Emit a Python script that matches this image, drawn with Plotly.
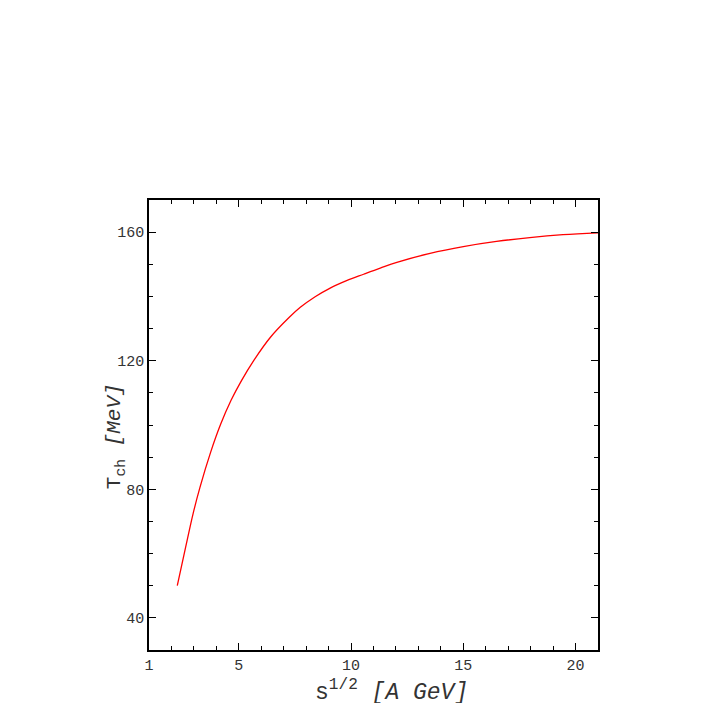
import plotly.graph_objects as go

# sqrt(s) [A GeV]
sqrt_s = [2.26, 2.63, 2.97, 3.27, 3.74, 4.19, 4.65, 5.12, 5.67, 6.41, 7.25,
          7.74, 8.4, 9.07, 9.8, 10.56, 11.3, 12.04, 13.52, 15.0, 16.48, 17.96,
          19.44, 21.0]
# T_ch [MeV]
t_ch = [50.0, 61.9, 72.6, 80.6, 91.4, 100.2, 107.6, 113.8, 120.1, 127.3, 133.5,
        136.6, 139.9, 142.6, 144.9, 146.9, 148.8, 150.6, 153.4, 155.5, 157.1,
        158.3, 159.2, 159.8]

x_ticks = [1, 5, 10, 15, 20]
y_ticks = [40, 80, 120, 160]

FONT = "Courier New, Liberation Mono, monospace"

fig = go.Figure()
fig.add_trace(go.Scatter(x=sqrt_s, y=t_ch, mode="lines",
                         line=dict(color="#ff0000", width=1.3, shape="spline", smoothing=1.0),
                         showlegend=False))

axis_common = dict(showline=True, linecolor="black", linewidth=1.5, mirror="ticks",
                   ticks="inside", ticklen=7, tickwidth=1, tickcolor="black",
                   showgrid=False, zeroline=False,
                   tickfont=dict(family=FONT, size=15, color="#333333"))

fig.update_xaxes(range=[1, 21], tickvals=x_ticks, ticktext=[str(v) for v in x_ticks],
                 minor=dict(dtick=1, tick0=1, ticks="inside", ticklen=4, tickcolor="black", showgrid=False),
                 **axis_common)
fig.update_yaxes(range=[30, 170], tickvals=y_ticks, ticktext=[str(v) for v in y_ticks],
                 minor=dict(dtick=10, tick0=30, ticks="inside", ticklen=4, tickcolor="black", showgrid=False),
                 **axis_common)

fig.add_annotation(text="s<sup>1/2</sup> <i>[A GeV]</i>", xref="paper", yref="paper",
                   x=0.539, y=-0.091, xanchor="center", yanchor="middle", showarrow=False,
                   font=dict(family=FONT, size=23, color="#333333"))
fig.add_annotation(text="T<sub>ch</sub> <i>[MeV]</i>", xref="paper", yref="paper",
                   x=-0.073, y=0.4756, xanchor="center", yanchor="middle", showarrow=False,
                   textangle=-90, font=dict(family=FONT, size=21, color="#333333"))

fig.update_layout(width=711, height=703, plot_bgcolor="white", paper_bgcolor="white",
                  margin=dict(l=141, r=121, t=192, b=61))

fig.write_html("out.html")
